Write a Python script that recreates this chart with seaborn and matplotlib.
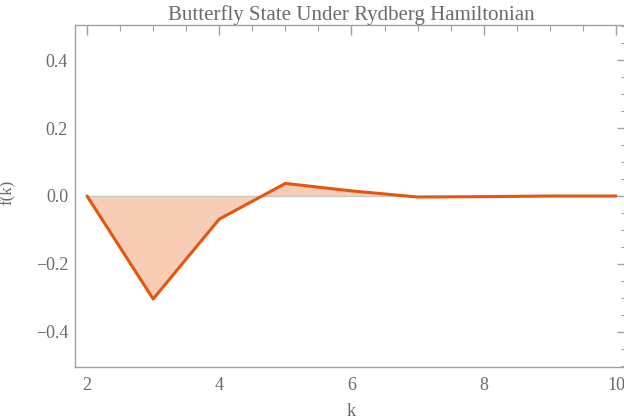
import numpy as np
import pandas as pd
import matplotlib
matplotlib.use("Agg")
import matplotlib.pyplot as plt
import seaborn as sns
from matplotlib.ticker import MultipleLocator, FuncFormatter

k = [2, 3, 4, 5, 6, 7, 8, 9, 10]
fk = [0.0, -0.303, -0.068, 0.037, 0.015, -0.003, -0.002, 0.0, 0.0]
title = "Butterfly State Under Rydberg Hamiltonian"

df = pd.DataFrame({"k": k, "f": fk})

sns.set_style("white")
plt.rcParams['font.family'] = ['Liberation Serif', 'DejaVu Serif']

text_col = "#6a6a6a"
line_col = "#e3560f"
fill_col = "#f7cdb6"

fig = plt.figure(figsize=(6.24, 4.18), dpi=100)
# frame runs a few pixels past the right edge, as in the original
ax = fig.add_axes([75 / 624, 51 / 418, 552 / 624, 342 / 418])

ax.fill_between(df["k"], df["f"], 0, color=fill_col, linewidth=0)
ax.hlines(0, df["k"].min(), df["k"].max(), color="#c8c8c8", linewidth=1.0, zorder=2)
sns.lineplot(data=df, x="k", y="f", ax=ax, color=line_col, linewidth=2.2, zorder=3)

ax.set_xlim(1.818, 10.167)
ax.set_ylim(-0.503, 0.503)
ax.xaxis.set_major_locator(MultipleLocator(2))
ax.xaxis.set_minor_locator(MultipleLocator(0.5))
ax.yaxis.set_major_locator(MultipleLocator(0.2))
ax.yaxis.set_minor_locator(MultipleLocator(0.05))
ax.yaxis.set_major_formatter(FuncFormatter(
    lambda v, p: ("%.1f" % v).replace("-", "\u2212") if abs(v) > 1e-9 else "0.0"))

for s in ax.spines.values():
    s.set_color("#a0a0a0")
    s.set_linewidth(1.0)
ax.tick_params(which="both", direction="in", top=True, right=True, colors="#a0a0a0",
               labelcolor=text_col, labelsize=13)
ax.tick_params(which="major", length=7, width=1.0)
ax.tick_params(which="minor", length=4, width=0.8)
ax.tick_params(axis="x", pad=7)
ax.tick_params(axis="y", pad=5)

ax.set_xlabel("k", fontsize=13, color=text_col)
ax.set_ylabel("f(k)", fontsize=12, color=text_col)
ax.xaxis.set_label_coords(0.5, -0.105)
ax.yaxis.set_label_coords(-0.109, 0.51)
fig.text(351 / 624, 1 - 15 / 418, title, ha="center", va="center", fontsize=15, color=text_col)

fig.savefig("out.png", dpi=100)
